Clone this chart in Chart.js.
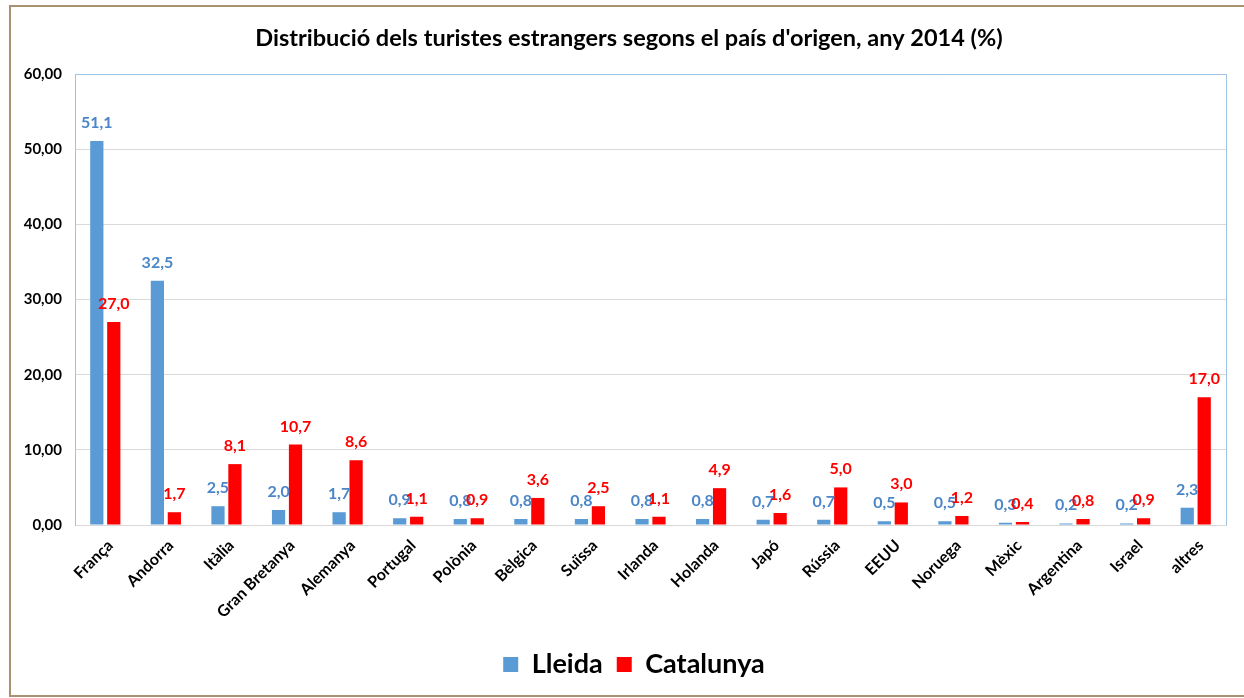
<!DOCTYPE html>
<html>
<head>
<meta charset="utf-8">
<script src="https://cdn.jsdelivr.net/npm/chart.js@4.4.1/dist/chart.umd.min.js"></script>
<style>
  html, body { margin: 0; padding: 0; background: #fff; overflow: hidden; }
  #frame {
    position: absolute; left: 9px; top: 5px; width: 1250px; height: 688px;
    border: 2px solid #a89272; box-sizing: content-box;
  }
  #wrap { position: absolute; left: 0; top: 0; width: 1244px; height: 698px; }
</style>
</head>
<body>
<div id="frame"></div>
<div id="wrap"><canvas id="chart"></canvas></div>
<script>
// Data
const countries = ['França', 'Andorra', 'Itàlia', 'Gran Bretanya', 'Alemanya', 'Portugal', 'Polònia',
    'Bèlgica', 'Suïssa', 'Irlanda', 'Holanda', 'Japó', 'Rússia', 'EEUU', 'Noruega', 'Mèxic',
    'Argentina', 'Israel', 'altres'];
const lleida    = [51.1, 32.5, 2.5, 2.0, 1.7, 0.9, 0.8, 0.8, 0.8, 0.8, 0.8, 0.7, 0.7, 0.5, 0.5, 0.3, 0.2, 0.2, 2.3];
const catalunya = [27.0, 1.7, 8.1, 10.7, 8.6, 1.1, 0.9, 3.6, 2.5, 1.1, 4.9, 1.6, 5.0, 3.0, 1.2, 0.4, 0.8, 0.9, 17.0];
const yTicks = [0, 10, 20, 30, 40, 50, 60];

const FONT = 'Lato, "Open Sans", sans-serif';
const fmt = (v, d) => v.toFixed(d).replace('.', ',');

// Title drawn at its own spot (not centred on the canvas in the original)
const titlePlugin = {
    id: 'titleText',
    afterDraw(chart) {
        const ctx = chart.ctx;
        ctx.save();
        ctx.font = 'bold 23.5px ' + FONT;
        ctx.fillStyle = '#000';
        ctx.textAlign = 'center';
        ctx.textBaseline = 'middle';
        ctx.fillText("Distribució dels turistes estrangers segons el país d'origen, any 2014 (%)", 629, 38);
        ctx.restore();
    }
};

// Value labels above each bar
const labelPlugin = {
    id: 'barLabels',
    afterDatasetsDraw(chart) {
        const ctx = chart.ctx;
        ctx.save();
        ctx.font = 'bold 16px ' + FONT;
        ctx.textAlign = 'center';
        ctx.textBaseline = 'alphabetic';
        chart.data.datasets.forEach((ds, i) => {
            const meta = chart.getDatasetMeta(i);
            ctx.fillStyle = ds.labelColor;
            meta.data.forEach((bar, j) => {
                ctx.fillText(fmt(ds.data[j], 1), bar.x, bar.y - 13);
            });
        });
        ctx.restore();
    }
};

// Light blue frame round the plot area, legend nudged right like the original
const framePlugin = {
    id: 'plotFrame',
    afterLayout(chart) {
        chart.legend.left += 16;
        chart.legend.right += 16;
    },
    afterDraw(chart) {
        const a = chart.chartArea;
        const ctx = chart.ctx;
        ctx.save();
        ctx.strokeStyle = '#9dc3e6';
        ctx.lineWidth = 1;
        ctx.beginPath();
        ctx.moveTo(a.left + 0.5, a.bottom);
        ctx.lineTo(a.left + 0.5, a.top + 0.5);
        ctx.lineTo(a.right + 0.5, a.top + 0.5);
        ctx.lineTo(a.right + 0.5, a.bottom);
        ctx.stroke();
        ctx.restore();
    }
};

new Chart(document.getElementById('chart'), {
    type: 'bar',
    data: {
        labels: countries,
        datasets: [
            {
                label: 'Lleida',
                data: lleida,
                backgroundColor: '#5b9bd5',
                labelColor: '#4a86c8',
                categoryPercentage: 0.56,
                barPercentage: 0.78
            },
            {
                label: 'Catalunya',
                data: catalunya,
                backgroundColor: '#ff0000',
                labelColor: '#ff0000',
                categoryPercentage: 0.56,
                barPercentage: 0.78
            }
        ]
    },
    options: {
        responsive: true,
        maintainAspectRatio: false,
        animation: false,
        layout: { padding: { left: 10, top: 74, right: 18, bottom: 10 } },
        plugins: {
            title: { display: false },
            tooltip: { enabled: false },
            legend: {
                position: 'bottom',
                labels: {
                    font: { family: FONT, size: 27, weight: 'bold' },
                    color: '#000',
                    boxWidth: 15,
                    boxHeight: 15,
                    padding: 14
                }
            }
        },
        scales: {
            x: {
                grid: { display: false },
                border: { color: '#d9d9d9' },
                ticks: {
                    font: { family: FONT, size: 16, weight: 'bold' },
                    color: '#000',
                    maxRotation: 45,
                    minRotation: 45,
                    labelOffset: 5,
                    autoSkip: false
                },
                afterFit(scale) { scale.height = 112; }
            },
            y: {
                min: 0,
                max: 60,
                afterBuildTicks(scale) { scale.ticks = yTicks.map(v => ({ value: v })); },
                grid: { color: '#d9d9d9', drawTicks: false },
                border: { color: '#9dc3e6' },
                ticks: {
                    font: { family: FONT, size: 15, weight: 'bold' },
                    color: '#000',
                    padding: 13,
                    callback: v => fmt(v, 2)
                },
                afterFit(scale) { scale.width = 65; }
            }
        }
    },
    plugins: [titlePlugin, labelPlugin, framePlugin]
});
</script>
</body>
</html>
